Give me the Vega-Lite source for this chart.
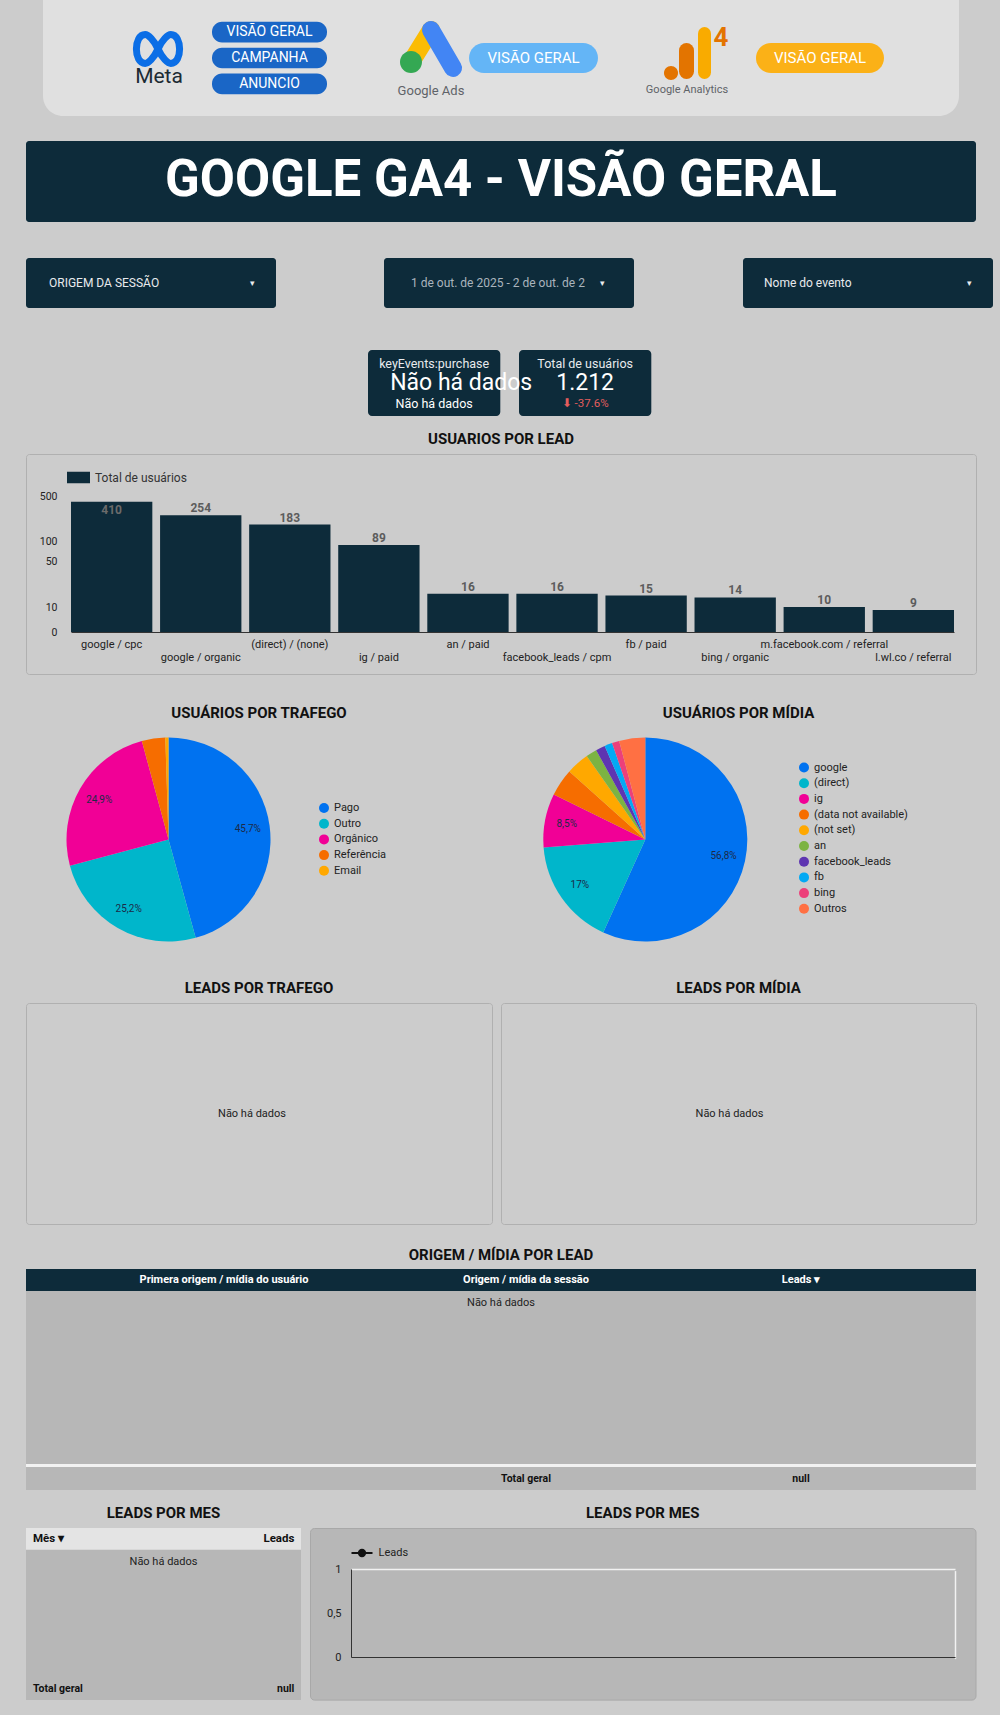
{
 "$schema": "https://vega.github.io/schema/vega-lite/v6.json",
 "background": "#cccccc",
 "padding": {"left": 25, "top": 0, "right": 8, "bottom": 0},
 "config": {
  "font": "Roboto",
  "view": {"stroke": null},
  "point": {"opacity": 1}
 },
 "spacing": 0,
 "bounds": "full",
 "resolve": {"scale": {"color": "independent"}, "legend": {"color": "independent"}},
 "vconcat": [
  {"spacing": 0, "bounds": "flush", "hconcat": [
   {"width": 17, "height": 116, "data": {"values": []}, "mark": "point"},
   {"width": 76, "height": 116, "data": {"values": [{"painel": "cabecalho"}]},
    "mark": {"type": "rect", "color": "#e0e0e0", "cornerRadiusBottomLeft": 20},
    "encoding": {"x": {"datum": 0, "type": "quantitative", "scale": {"domain": [0, 1]}, "axis": null}, "x2": {"datum": 1},
                 "y": {"datum": 0, "type": "quantitative", "scale": {"domain": [0, 1]}, "axis": null}, "y2": {"datum": 1}}},
   {"width": 82, "height": 116, "view": {"fill": "#e0e0e0"},
    "data": {"values": [{"marca": "Meta"}]},
    "layer": [
     {"mark": {"type": "point", "shape": "M-0.05,-0.225C0.05,-0.45 0.2,-0.585 0.27,-0.585C0.42,-0.585 0.49,-0.4 0.49,-0.225C0.49,-0.05 0.42,0.135 0.27,0.135C0.2,0.135 0.05,0 -0.05,-0.225C-0.15,-0.45 -0.3,-0.585 -0.37,-0.585C-0.52,-0.585 -0.59,-0.4 -0.59,-0.225C-0.59,-0.05 -0.52,0.135 -0.37,0.135C-0.3,0.135 -0.15,0 -0.05,-0.225Z", "size": 6400, "filled": false, "stroke": "#0b6ee6", "strokeWidth": 7, "strokeJoin": "round", "strokeCap": "round", "opacity": 1}},
     {"mark": {"type": "text", "fontSize": 21, "color": "#1c2b33", "dy": 19, "dx": -1}, "encoding": {"text": {"field": "marca"}}}
    ]},
   {"width": 11, "height": 116, "view": {"fill": "#e0e0e0"}, "data": {"values": []}, "mark": "point"},
   {"width": 115, "height": 116, "view": {"fill": "#e0e0e0"},
    "data": {"values": [{"b": "VISÃO GERAL"}, {"b": "CAMPANHA"}, {"b": "ANUNCIO"}]},
    "encoding": {"y": {"field": "b", "type": "nominal", "sort": null, "scale": {"paddingInner": 0.2, "paddingOuter": 0.84}, "axis": null}},
    "layer": [
     {"mark": {"type": "bar", "color": "#1a66c6", "cornerRadius": 10}, "encoding": {"x": {"datum": 1, "type": "quantitative", "scale": {"domain": [0, 1]}, "axis": null}}},
     {"mark": {"type": "text", "color": "white", "fontSize": 14}, "encoding": {"text": {"field": "b"}}}
    ]},
   {"width": 64, "height": 116, "view": {"fill": "#e0e0e0"}, "data": {"values": []}, "mark": "point"},
   {"width": 78, "height": 116, "view": {"fill": "#e0e0e0"},
    "data": {"values": [{"marca": "Google Ads"}]},
    "layer": [
     {"mark": {"type": "point", "shape": "M0.03,-0.875L-0.59,0.125", "size": 4096, "filled": false, "stroke": "#fbbc04", "strokeWidth": 18, "strokeCap": "round", "strokeJoin": "round", "opacity": 1}},
     {"mark": {"type": "point", "shape": "M0.03,-0.875L0.72,0.31", "size": 4096, "filled": false, "stroke": "#4285f4", "strokeWidth": 18, "strokeCap": "round", "strokeJoin": "round", "opacity": 1}},
     {"mark": {"type": "point", "shape": "M-0.938,0.125A0.344,0.344 0 1,0 -0.25,0.125A0.344,0.344 0 1,0 -0.938,0.125Z", "size": 4096, "filled": true, "fill": "#34a853", "strokeWidth": 0, "opacity": 1}},
     {"mark": {"type": "text", "fontSize": 13, "color": "#5f6368", "dy": 33, "dx": 1}, "encoding": {"text": {"field": "marca"}}}
    ]},
   {"width": 129, "height": 116, "view": {"fill": "#e0e0e0"},
    "data": {"values": [{"b": "VISÃO GERAL"}]},
    "encoding": {"y": {"field": "b", "type": "nominal", "scale": {"paddingInner": 0.3023, "paddingOuter": 1}, "axis": null}},
    "layer": [
     {"mark": {"type": "bar", "color": "#64b5f6", "cornerRadius": 15}, "encoding": {"x": {"datum": 1, "type": "quantitative", "scale": {"domain": [0, 1]}, "axis": null}}},
     {"mark": {"type": "text", "color": "white", "fontSize": 15}, "encoding": {"text": {"field": "b"}}}
    ]},
   {"width": 43, "height": 116, "view": {"fill": "#e0e0e0"}, "data": {"values": []}, "mark": "point"},
   {"width": 95, "height": 116, "view": {"fill": "#e0e0e0"},
    "data": {"values": [{"marca": "Google Analytics", "versao": "4"}]},
    "layer": [
     {"mark": {"type": "point", "shape": "M-0.0625,-0.234L-0.0625,0.42", "size": 4096, "filled": false, "stroke": "#e37400", "strokeWidth": 15, "strokeCap": "round", "strokeJoin": "round", "opacity": 1}},
     {"mark": {"type": "point", "shape": "M0.5,-0.766L0.5,0.453", "size": 4096, "filled": false, "stroke": "#f9ab00", "strokeWidth": 13, "strokeCap": "round", "strokeJoin": "round", "opacity": 1}},
     {"mark": {"type": "point", "shape": "M-0.766,0.469A0.219,0.219 0 1,0 -0.328,0.469A0.219,0.219 0 1,0 -0.766,0.469Z", "size": 4096, "filled": true, "fill": "#e37400", "strokeWidth": 0, "opacity": 1}},
     {"mark": {"type": "text", "fontSize": 26, "fontWeight": "bold", "color": "#e37400", "dx": 32.5, "dy": -20}, "encoding": {"text": {"field": "versao"}}},
     {"mark": {"type": "text", "fontSize": 11, "color": "#5f6368", "dy": 32, "dx": -1.5}, "encoding": {"text": {"field": "marca"}}}
    ]},
   {"width": 20, "height": 116, "view": {"fill": "#e0e0e0"}, "data": {"values": []}, "mark": "point"},
   {"width": 128, "height": 116, "view": {"fill": "#e0e0e0"},
    "data": {"values": [{"b": "VISÃO GERAL"}]},
    "encoding": {"y": {"field": "b", "type": "nominal", "scale": {"paddingInner": 0.3023, "paddingOuter": 1}, "axis": null}},
    "layer": [
     {"mark": {"type": "bar", "color": "#fbb117", "cornerRadius": 15}, "encoding": {"x": {"datum": 1, "type": "quantitative", "scale": {"domain": [0, 1]}, "axis": null}}},
     {"mark": {"type": "text", "color": "white", "fontSize": 15}, "encoding": {"text": {"field": "b"}}}
    ]},
   {"width": 75, "height": 116, "data": {"values": [{"painel": "cabecalho"}]},
    "mark": {"type": "rect", "color": "#e0e0e0", "cornerRadiusBottomRight": 20},
    "encoding": {"x": {"datum": 0, "type": "quantitative", "scale": {"domain": [0, 1]}, "axis": null}, "x2": {"datum": 1},
                 "y": {"datum": 0, "type": "quantitative", "scale": {"domain": [0, 1]}, "axis": null}, "y2": {"datum": 1}}}
  ]},
  {"width": 1, "height": 25, "data": {"values": []}, "mark": "point"},
  {"width": 950, "height": 81, "view": {"fill": "#0d2b3a", "cornerRadius": 3},
   "data": {"values": [{"t": "GOOGLE GA4 - VISÃO GERAL"}]},
   "mark": {"type": "text", "fontSize": 51, "fontWeight": "bold", "color": "white", "dy": -0.5},
   "encoding": {"text": {"field": "t"}}},
  {"width": 1, "height": 36, "data": {"values": []}, "mark": "point"},
  {"spacing": 0, "bounds": "flush", "hconcat": [
   {"width": 250, "height": 50, "view": {"fill": "#0d2b3a", "cornerRadius": 3},
    "data": {"values": [{"t": "ORIGEM DA SESSÃO", "s": "▾"}]},
    "layer": [
     {"mark": {"type": "text", "align": "left", "dx": -102, "fontSize": 12, "color": "#e8eaed"}, "encoding": {"text": {"field": "t"}}},
     {"mark": {"type": "text", "dx": 101, "fontSize": 9, "color": "#e8eaed"}, "encoding": {"text": {"field": "s"}}}
    ]},
   {"width": 108, "height": 1, "data": {"values": []}, "mark": "point"},
   {"width": 250, "height": 50, "view": {"fill": "#0d2b3a", "cornerRadius": 3},
    "data": {"values": [{"t": "1 de out. de 2025 - 2 de out. de 2", "s": "▾"}]},
    "layer": [
     {"mark": {"type": "text", "align": "left", "dx": -98, "fontSize": 12, "color": "#aab4bd"}, "encoding": {"text": {"field": "t"}}},
     {"mark": {"type": "text", "dx": 93, "fontSize": 9, "color": "#e8eaed"}, "encoding": {"text": {"field": "s"}}}
    ]},
   {"width": 109, "height": 1, "data": {"values": []}, "mark": "point"},
   {"width": 250, "height": 50, "view": {"fill": "#0d2b3a", "cornerRadius": 3},
    "data": {"values": [{"t": "Nome do evento", "s": "▾"}]},
    "layer": [
     {"mark": {"type": "text", "align": "left", "dx": -104, "fontSize": 12, "color": "#e8eaed"}, "encoding": {"text": {"field": "t"}}},
     {"mark": {"type": "text", "dx": 101, "fontSize": 9, "color": "#e8eaed"}, "encoding": {"text": {"field": "s"}}}
    ]}
  ]},
  {"width": 1, "height": 42, "data": {"values": []}, "mark": "point"},
  {"spacing": 0, "bounds": "flush", "hconcat": [
   {"width": 341.7, "height": 1, "data": {"values": []}, "mark": "point"},
   {"width": 132.3, "height": 66, "view": {"fill": "#0d2b3a", "cornerRadius": 4},
    "data": {"values": [{"titulo": "keyEvents:purchase", "comp": "Não há dados"}]},
    "layer": [
     {"mark": {"type": "text", "fontSize": 12.5, "color": "#e8eaed", "dy": -19}, "encoding": {"text": {"field": "titulo"}}},
     {"mark": {"type": "text", "fontSize": 12.5, "color": "#ffffff", "dy": 21}, "encoding": {"text": {"field": "comp"}}}
    ]},
   {"width": 17.7, "height": 1, "data": {"values": []}, "mark": "point"},
   {"width": 132.3, "height": 66, "view": {"fill": "#0d2b3a", "cornerRadius": 4},
    "data": {"values": [{"titulo": "Total de usuários", "valor": "1.212", "comp": "⬇ -37.6%", "vazio": "Não há dados"}]},
    "layer": [
     {"mark": {"type": "text", "fontSize": 12.5, "color": "#e8eaed", "dy": -19}, "encoding": {"text": {"field": "titulo"}}},
     {"mark": {"type": "text", "fontSize": 23, "color": "#ffffff", "dy": 0}, "encoding": {"text": {"field": "valor"}}},
     {"mark": {"type": "text", "fontSize": 11.5, "color": "#e35d5d", "dy": 21}, "encoding": {"text": {"field": "comp"}}},
     {"mark": {"type": "text", "fontSize": 23, "color": "#ffffff", "align": "left", "dx": -195}, "encoding": {"text": {"field": "vazio"}}}
    ]}
  ]},
  {"width": 950, "height": 37, "data": {"values": [{"t": "USUARIOS POR LEAD"}]},
   "mark": {"type": "text", "fontSize": 15, "fontWeight": "bold", "color": "#111111", "dy": 4}, "encoding": {"text": {"field": "t"}}},
  {"width": 950, "height": 220,
   "view": {"stroke": "#b0b0b0", "cornerRadius": 3},
   "data": {"values": [
    {"o": "google / cpc", "u": 410},
    {"o": "google / organic", "u": 254},
    {"o": "(direct) / (none)", "u": 183},
    {"o": "ig / paid", "u": 89},
    {"o": "an / paid", "u": 16},
    {"o": "facebook_leads / cpm", "u": 16},
    {"o": "fb / paid", "u": 15},
    {"o": "bing / organic", "u": 14},
    {"o": "m.facebook.com / referral", "u": 10},
    {"o": "l.wl.co / referral", "u": 9}
   ]},
   "encoding": {
    "x": {"field": "o", "type": "nominal", "sort": null,
     "scale": {"range": [45, 928], "paddingInner": 0.087, "paddingOuter": 0},
     "axis": {"title": null, "orient": "bottom", "offset": -42, "domainColor": "#333333", "domainWidth": 1.2, "ticks": false, "tickSize": 0, "labelAngle": 0, "labelFontSize": 11, "labelColor": "#222222", "labelOverlap": false, "labelLimit": 0, "labelBound": false, "labelPadding": 6, "labelLineHeight": 13,
      "labelExpr": "indexof(['google / organic','ig / paid','facebook_leads / cpm','bing / organic','l.wl.co / referral'], datum.value) >= 0 ? ['', datum.label] : datum.label"}},
    "y": {"field": "u", "type": "quantitative",
     "scale": {"type": "log", "domain": [0.942, 2203], "nice": false},
     "axis": {"title": null, "offset": -33, "values": [4.14, 10, 50, 100, 500], "labelExpr": "datum.value < 5 ? '0' : format(datum.value, 'd')", "domain": false, "ticks": false, "tickSize": 0, "grid": false, "labelPadding": 2, "labelFontSize": 10.5, "labelColor": "#222222"}}
   },
   "layer": [
    {"mark": {"type": "bar"},
     "encoding": {"y2": {"datum": 4.14},
      "color": {"datum": "Total de usuários", "type": "nominal", "scale": {"domain": ["Total de usuários"], "range": ["#0d2b3a"]},
       "legend": {"orient": "none", "legendX": 41, "legendY": 12, "title": null, "symbolType": "M-1,-0.5H1V0.5H-1Z", "symbolSize": 529, "symbolStrokeWidth": 0, "labelFontSize": 12, "labelColor": "#333333", "labelOffset": 5, "padding": 0}}}},
    {"transform": [{"filter": "datum.u < 400"}],
     "mark": {"type": "text", "baseline": "alphabetic", "dy": -3, "fontSize": 12, "fontWeight": "bold", "color": "#5c5c5c"},
     "encoding": {"text": {"field": "u"}}},
    {"transform": [{"filter": "datum.u >= 400"}],
     "mark": {"type": "text", "baseline": "alphabetic", "dy": 12, "fontSize": 12, "fontWeight": "bold", "color": "#6b6b6b"},
     "encoding": {"text": {"field": "u"}}}
   ]},
  {"width": 1, "height": 25, "data": {"values": []}, "mark": "point"},
  {"spacing": 0, "bounds": "flush", "hconcat": [
   {"width": 466, "height": 29, "data": {"values": [{"t": "USUÁRIOS POR TRAFEGO"}]},
    "mark": {"type": "text", "fontSize": 15, "fontWeight": "bold", "color": "#111111", "dy": -1.5}, "encoding": {"text": {"field": "t"}}},
   {"width": 9, "height": 1, "data": {"values": []}, "mark": "point"},
   {"width": 475, "height": 29, "data": {"values": [{"t": "USUÁRIOS POR MÍDIA"}]},
    "mark": {"type": "text", "fontSize": 15, "fontWeight": "bold", "color": "#111111", "dy": -1.5}, "encoding": {"text": {"field": "t"}}}
  ]},
  {"spacing": 0, "bounds": "flush",
   "resolve": {"scale": {"color": "independent"}, "legend": {"color": "independent"}},
   "hconcat": [
   {"width": 285, "height": 221,
    "data": {"values": [
     {"t": "Pago", "u": 554},
     {"t": "Outro", "u": 305},
     {"t": "Orgânico", "u": 302},
     {"t": "Referência", "u": 45},
     {"t": "Email", "u": 6}
    ]},
    "transform": [
     {"window": [{"op": "row_number", "as": "ordem"}]},
     {"joinaggregate": [{"op": "sum", "field": "u", "as": "total"}]},
     {"calculate": "datum.u / datum.total", "as": "p"},
     {"calculate": "datum.p > 0.05 ? replace(replace(format(datum.p, '.1%'), '.0%', '%'), '.', ',') : ''", "as": "rot"}
    ],
    "encoding": {
     "theta": {"field": "u", "type": "quantitative", "stack": true},
     "order": {"field": "ordem", "type": "quantitative"},
     "color": {"field": "t", "type": "nominal",
      "scale": {"domain": ["Pago", "Outro", "Orgânico", "Referência", "Email"], "range": ["#0072f0", "#00b6cb", "#f10096", "#f66d00", "#ffa800"]},
      "legend": {"orient": "none", "legendX": 292, "legendY": 73, "title": null, "symbolType": "circle", "symbolSize": 100, "labelFontSize": 11, "labelColor": "#222222", "labelOffset": 4, "rowPadding": 4.7, "padding": 0}}
    },
    "layer": [
     {"mark": {"type": "arc", "outerRadius": 102}},
     {"mark": {"type": "text", "radius": 80, "fontSize": 10}, "encoding": {"text": {"field": "rot"}, "color": {"value": "#1c2a48"}}}
    ]},
   {"width": 190, "height": 1, "data": {"values": []}, "mark": "point"},
   {"width": 288.6, "height": 221,
    "data": {"values": [
     {"m": "google", "u": 688},
     {"m": "(direct)", "u": 206},
     {"m": "ig", "u": 103},
     {"m": "(data not available)", "u": 53},
     {"m": "(not set)", "u": 44},
     {"m": "an", "u": 21},
     {"m": "facebook_leads", "u": 18},
     {"m": "fb", "u": 15},
     {"m": "bing", "u": 14},
     {"m": "Outros", "u": 50}
    ]},
    "transform": [
     {"window": [{"op": "row_number", "as": "ordem"}]},
     {"joinaggregate": [{"op": "sum", "field": "u", "as": "total"}]},
     {"calculate": "datum.u / datum.total", "as": "p"},
     {"calculate": "datum.p > 0.05 ? replace(replace(format(datum.p, '.1%'), '.0%', '%'), '.', ',') : ''", "as": "rot"}
    ],
    "encoding": {
     "theta": {"field": "u", "type": "quantitative", "stack": true},
     "order": {"field": "ordem", "type": "quantitative"},
     "color": {"field": "m", "type": "nominal",
      "scale": {"domain": ["google", "(direct)", "ig", "(data not available)", "(not set)", "an", "facebook_leads", "fb", "bing", "Outros"], "range": ["#0072f0", "#00b6cb", "#f10096", "#f66d00", "#ffa800", "#7cb342", "#5e35b1", "#03a9f4", "#ec407a", "#ff7043"]},
      "legend": {"orient": "none", "legendX": 297, "legendY": 32.5, "title": null, "symbolType": "circle", "symbolSize": 100, "labelFontSize": 11, "labelColor": "#222222", "labelOffset": 4, "rowPadding": 4.7, "padding": 0}}
    },
    "layer": [
     {"mark": {"type": "arc", "outerRadius": 102}},
     {"mark": {"type": "text", "radius": 80, "fontSize": 10}, "encoding": {"text": {"field": "rot"}, "color": {"value": "#1c2a48"}}}
    ]}
  ]},
  {"width": 1, "height": 24, "data": {"values": []}, "mark": "point"},
  {"spacing": 0, "bounds": "flush", "hconcat": [
   {"width": 466, "height": 28, "data": {"values": [{"t": "LEADS POR TRAFEGO"}]},
    "mark": {"type": "text", "fontSize": 15, "fontWeight": "bold", "color": "#111111", "dy": 0}, "encoding": {"text": {"field": "t"}}},
   {"width": 9, "height": 1, "data": {"values": []}, "mark": "point"},
   {"width": 475, "height": 28, "data": {"values": [{"t": "LEADS POR MÍDIA"}]},
    "mark": {"type": "text", "fontSize": 15, "fontWeight": "bold", "color": "#111111", "dy": 0}, "encoding": {"text": {"field": "t"}}}
  ]},
  {"spacing": 0, "bounds": "flush", "hconcat": [
   {"width": 466, "height": 221, "view": {"stroke": "#b0b0b0", "cornerRadius": 3},
    "data": {"values": [{"t": "Não há dados"}]},
    "mark": {"type": "text", "fontSize": 11, "color": "#222222", "dx": -7},
    "encoding": {"text": {"field": "t"}}},
   {"width": 9, "height": 1, "data": {"values": []}, "mark": "point"},
   {"width": 475, "height": 221, "view": {"stroke": "#b0b0b0", "cornerRadius": 3},
    "data": {"values": [{"t": "Não há dados"}]},
    "mark": {"type": "text", "fontSize": 11, "color": "#222222", "dx": -9},
    "encoding": {"text": {"field": "t"}}}
  ]},
  {"width": 1, "height": 16, "data": {"values": []}, "mark": "point"},
  {"width": 950, "height": 28, "data": {"values": [{"t": "ORIGEM / MÍDIA POR LEAD"}]},
   "mark": {"type": "text", "fontSize": 15, "fontWeight": "bold", "color": "#111111"}, "encoding": {"text": {"field": "t"}}},
  {"spacing": 0, "bounds": "flush", "hconcat": [
    {"width": 396, "height": 22, "view": {"fill": "#0d2b3a"}, "data": {"values": [{"c": "Primera origem / mídia do usuário"}]},
     "mark": {"type": "text", "fontSize": 11, "fontWeight": "bold", "color": "white"}, "encoding": {"text": {"field": "c"}}},
    {"width": 208, "height": 22, "view": {"fill": "#0d2b3a"}, "data": {"values": [{"c": "Origem / mídia da sessão"}]},
     "mark": {"type": "text", "fontSize": 11, "fontWeight": "bold", "color": "white"}, "encoding": {"text": {"field": "c"}}},
    {"width": 342, "height": 22, "view": {"fill": "#0d2b3a"}, "data": {"values": [{"c": "Leads ▾"}]},
     "mark": {"type": "text", "fontSize": 11, "fontWeight": "bold", "color": "white"}, "encoding": {"text": {"field": "c"}}},
    {"width": 4, "height": 22, "view": {"fill": "#0d2b3a"}, "data": {"values": []}, "mark": "point"}
  ]},
  {"width": 950, "height": 24, "view": {"fill": "#b7b7b7"}, "data": {"values": [{"t": "Não há dados"}]},
   "mark": {"type": "text", "fontSize": 11, "color": "#222222"}, "encoding": {"text": {"field": "t"}}},
  {"width": 950, "height": 149, "view": {"fill": "#b7b7b7"}, "data": {"values": []}, "mark": "point"},
  {"width": 950, "height": 3, "view": {"fill": "#f2f2f2"}, "data": {"values": []}, "mark": "point"},
  {"spacing": 0, "bounds": "flush", "hconcat": [
   {"width": 396, "height": 23, "view": {"fill": "#b7b7b7"}, "data": {"values": []}, "mark": "point"},
   {"width": 208, "height": 23, "view": {"fill": "#b7b7b7"}, "data": {"values": [{"c": "Total geral"}]},
    "mark": {"type": "text", "fontSize": 10.5, "fontWeight": "bold", "color": "#111111"}, "encoding": {"text": {"field": "c"}}},
   {"width": 342, "height": 23, "view": {"fill": "#b7b7b7"}, "data": {"values": [{"c": "null"}]},
    "mark": {"type": "text", "fontSize": 10.5, "fontWeight": "bold", "color": "#111111"}, "encoding": {"text": {"field": "c"}}},
   {"width": 4, "height": 23, "view": {"fill": "#b7b7b7"}, "data": {"values": []}, "mark": "point"}
  ]},
  {"width": 1, "height": 10, "data": {"values": []}, "mark": "point"},
  {"spacing": 0, "bounds": "flush", "hconcat": [
   {"width": 275, "height": 26.7, "data": {"values": [{"t": "LEADS POR MES"}]},
    "mark": {"type": "text", "fontSize": 15, "fontWeight": "bold", "color": "#111111", "dy": 0}, "encoding": {"text": {"field": "t"}}},
   {"width": 9, "height": 1, "data": {"values": []}, "mark": "point"},
   {"width": 665.5, "height": 26.7, "data": {"values": [{"t": "LEADS POR MES"}]},
    "mark": {"type": "text", "fontSize": 15, "fontWeight": "bold", "color": "#111111", "dy": 0}, "encoding": {"text": {"field": "t"}}}
  ]},
  {"spacing": 0, "bounds": "full",
   "resolve": {"scale": {"color": "independent"}, "legend": {"color": "independent"}},
   "hconcat": [
   {"spacing": 0, "bounds": "flush",
    "vconcat": [
     {"width": 275, "height": 21.6, "view": {"fill": "#e4e4e4"},
      "data": {"values": [{"c": "Mês ▾"}, {"c": "Leads"}]},
      "encoding": {"x": {"field": "c", "type": "nominal", "scale": {"type": "point", "padding": 0, "domain": ["Mês ▾", "Leads"]}, "axis": null}, "text": {"field": "c"}},
      "layer": [
       {"transform": [{"filter": "datum.c == 'Mês ▾'"}], "mark": {"type": "text", "align": "left", "dx": 7, "fontSize": 11.5, "fontWeight": "bold", "color": "#111111"}},
       {"transform": [{"filter": "datum.c == 'Leads'"}], "mark": {"type": "text", "align": "right", "dx": -6.6, "fontSize": 11.5, "fontWeight": "bold", "color": "#111111"}}
      ]},
     {"width": 275, "height": 24, "view": {"fill": "#b7b7b7"}, "data": {"values": [{"t": "Não há dados"}]},
      "mark": {"type": "text", "fontSize": 11, "color": "#222222"}, "encoding": {"text": {"field": "t"}}},
     {"width": 275, "height": 103, "view": {"fill": "#b7b7b7"}, "data": {"values": []}, "mark": "point"},
     {"width": 275, "height": 23, "view": {"fill": "#b7b7b7"},
      "data": {"values": [{"c": "Total geral"}, {"c": "null"}]},
      "encoding": {"x": {"field": "c", "type": "nominal", "scale": {"type": "point", "padding": 0, "domain": ["Total geral", "null"]}, "axis": null}, "text": {"field": "c"}},
      "layer": [
       {"transform": [{"filter": "datum.c == 'Total geral'"}], "mark": {"type": "text", "align": "left", "dx": 7, "fontSize": 10.5, "fontWeight": "bold", "color": "#111111"}},
       {"transform": [{"filter": "datum.c == 'null'"}], "mark": {"type": "text", "align": "right", "dx": -6.6, "fontSize": 10.5, "fontWeight": "bold", "color": "#111111"}}
      ]}
    ]},
   {"width": 8, "height": 1, "data": {"values": []}, "mark": "point"},
   {"width": 665.5, "height": 171.6,
    "view": {"fill": "#b7b7b7", "cornerRadius": 4, "stroke": "#a8a8a8"},
    "data": {"values": []},
    "mark": {"type": "line", "point": true},
    "encoding": {
     "x": {"field": "mes", "type": "quantitative", "scale": {"domain": [0, 1], "range": [41, 645]},
      "axis": {"title": null, "offset": -42.6, "values": [1], "labels": false, "ticks": false, "tickSize": 0, "domainColor": "#333333", "grid": true, "gridColor": "#f2f2f2", "gridWidth": 1.5}},
     "y": {"field": "leads", "type": "quantitative", "scale": {"domain": [0, 1], "range": [129, 41]},
      "axis": {"title": null, "offset": -41, "values": [0, 0.5, 1], "labelExpr": "replace(format(datum.value, '~g'), '.', ',')", "ticks": false, "tickSize": 0, "labelPadding": 10, "domainColor": "#333333", "grid": true, "gridColor": "#f2f2f2", "gridWidth": 1.5,
       "gridOpacity": {"condition": {"test": "datum.value == 1", "value": 1}, "value": 0}, "labelFontSize": 11, "labelColor": "#222222"}},
     "color": {"field": "serie", "type": "nominal", "scale": {"domain": ["Leads"], "range": ["#111111"]},
      "legend": {"orient": "none", "legendX": 40.5, "legendY": 13.5, "title": null, "symbolType": "M-1,0H1M0.3,0A0.3,0.3 0 1,1 -0.3,0A0.3,0.3 0 1,1 0.3,0Z", "symbolSize": 441, "symbolStrokeWidth": 2, "symbolFillColor": "#111111", "labelFontSize": 11, "labelColor": "#222222", "labelOffset": 5, "padding": 0}}
    }}
  ]},
  {"width": 1, "height": 15.4, "data": {"values": []}, "mark": "point"}
 ]
}
